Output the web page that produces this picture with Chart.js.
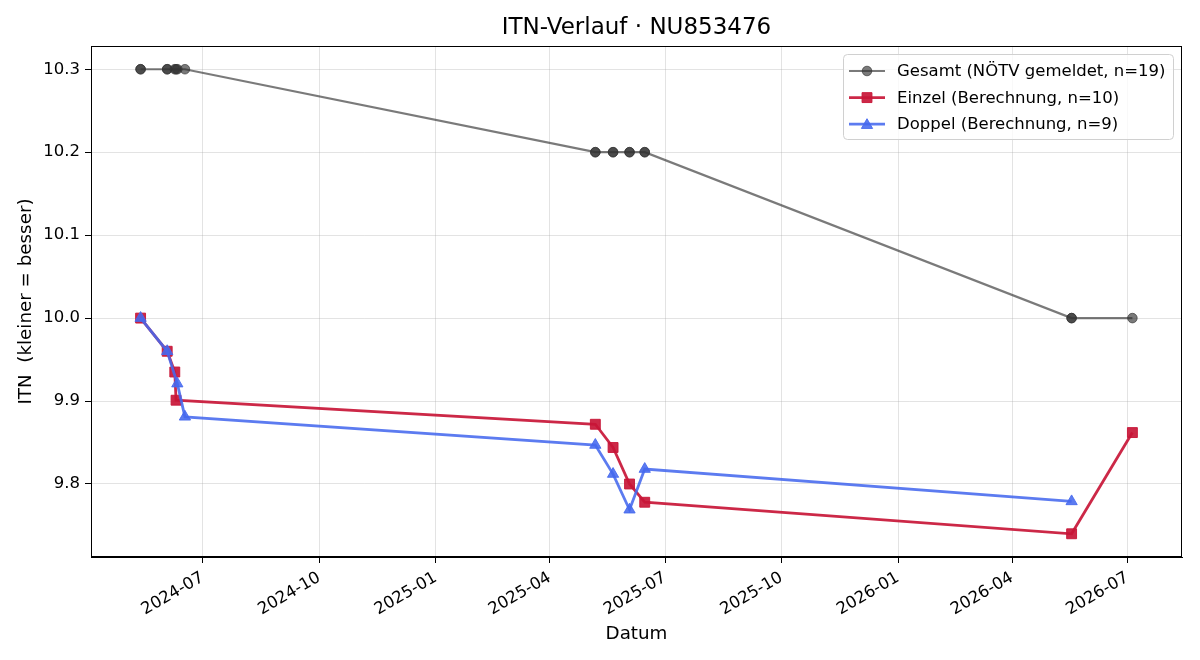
<!DOCTYPE html>
<html><head><meta charset="utf-8">
<script src="https://cdn.jsdelivr.net/npm/chart.js@4.4.1/dist/chart.umd.min.js"></script>
<style>html,body{margin:0;padding:0;background:#fff}#wrap{width:1200px;height:660px}</style>
</head><body><div id="wrap"><canvas id="c" width="1200" height="660"></canvas></div>
<script>
const titleText = 'ITN-Verlauf · NU853476';
const xAxisTitle = 'Datum';
const yAxisTitle = 'ITN  (kleiner = besser)';

const gesamtLabel = 'Gesamt (NÖTV gemeldet, n=19)';
const gesamtDates = ['2024-05-13','2024-05-13','2024-06-03','2024-06-03','2024-06-09','2024-06-10','2024-06-11','2024-06-17',
  '2025-05-07','2025-05-07','2025-05-21','2025-05-21','2025-06-03','2025-06-03','2025-06-15','2025-06-15',
  '2026-05-18','2026-05-18','2026-07-05'];
const gesamtValues = [10.3,10.3,10.3,10.3,10.3,10.3,10.3,10.3,
  10.2,10.2,10.2,10.2,10.2,10.2,10.2,10.2,
  10.0,10.0,10.0];

const einzelLabel = 'Einzel (Berechnung, n=10)';
const einzelDates = ['2024-05-13','2024-06-03','2024-06-09','2024-06-10','2025-05-07','2025-05-21','2025-06-03','2025-06-15','2026-05-18','2026-07-05'];
const einzelValues = [10.0, 9.96, 9.935, 9.901, 9.872, 9.844, 9.800, 9.778, 9.740, 9.862];

const doppelLabel = 'Doppel (Berechnung, n=9)';
const doppelDates = ['2024-05-13','2024-06-03','2024-06-11','2024-06-17','2025-05-07','2025-05-21','2025-06-03','2025-06-15','2026-05-18'];
const doppelValues = [10.0, 9.96, 9.921, 9.881, 9.847, 9.812, 9.769, 9.818, 9.779];

const xTickLabels = ['2024-07','2024-10','2025-01','2025-04','2025-07','2025-10','2026-01','2026-04','2026-07'];
const yTickValues = [9.8, 9.9, 10.0, 10.1, 10.2, 10.3];

const toMs = s => new Date(s + 'T00:00:00Z').getTime();
const pts = (d, v) => d.map((s, i) => ({x: toMs(s), y: v[i]}));

const allX = [...gesamtDates, ...einzelDates, ...doppelDates].map(toMs);
const allY = [...gesamtValues, ...einzelValues, ...doppelValues];
const xMin0 = Math.min(...allX), xMax0 = Math.max(...allX);
const yMin0 = Math.min(...allY), yMax0 = Math.max(...allY);
const xm = (xMax0 - xMin0) * 0.05, ym = (yMax0 - yMin0) * 0.05;

const FONT = 'DejaVu Sans';
const TICK_SIZE = 16.5;
const GRAY = 'rgba(51,51,51,0.65)';
const RED = 'rgba(200,22,55,0.92)';
const BLUE = 'rgba(70,105,238,0.88)';

function drawMarker(ctx, style, x, y, r, color) {
  ctx.save();
  ctx.fillStyle = color; ctx.strokeStyle = color; ctx.lineWidth = 1;
  ctx.beginPath();
  if (style === 'circle') {
    ctx.arc(x, y, r, 0, Math.PI * 2);
  } else if (style === 'rect') {
    const s = r * Math.SQRT1_2;
    ctx.rect(x - s, y - s, 2 * s, 2 * s);
  } else if (style === 'triangle') {
    ctx.moveTo(x, y - r);
    ctx.lineTo(x + r * Math.sin(Math.PI * 2 / 3), y - r * Math.cos(Math.PI * 2 / 3));
    ctx.lineTo(x + r * Math.sin(Math.PI * 4 / 3), y - r * Math.cos(Math.PI * 4 / 3));
    ctx.closePath();
  }
  ctx.fill(); ctx.stroke();
  ctx.restore();
}

const decor = {
  id: 'decor',
  afterDraw(chart) {
    const ctx = chart.ctx, a = chart.chartArea;
    ctx.save();
    // frame
    ctx.strokeStyle = '#000'; ctx.lineWidth = 1;
    ctx.strokeRect(Math.round(a.left) + 0.5, Math.round(a.top) + 0.5, Math.round(a.right - a.left) - 1, Math.round(a.bottom - a.top) - 1);
    // title
    ctx.fillStyle = '#000';
    ctx.font = '23px "' + FONT + '"';
    ctx.textAlign = 'center'; ctx.textBaseline = 'middle';
    ctx.fillText(titleText, (a.left + a.right) / 2, 28);
    // legend
    const bx = 843, by = 54, bw = 330, bh = 85;
    ctx.beginPath();
    if (ctx.roundRect) ctx.roundRect(bx + 0.5, by + 0.5, bw, bh, 4); else ctx.rect(bx + 0.5, by + 0.5, bw, bh);
    ctx.fillStyle = 'rgba(255,255,255,0.8)'; ctx.fill();
    ctx.strokeStyle = '#d0d0d0'; ctx.lineWidth = 1; ctx.stroke();
    const rows = [
      {label: gesamtLabel, color: GRAY, style: 'circle', r: 4.8, lw: 2.2},
      {label: einzelLabel, color: RED, style: 'rect', r: 7, lw: 2.8},
      {label: doppelLabel, color: BLUE, style: 'triangle', r: 6.5, lw: 2.8}
    ];
    rows.forEach((row, i) => {
      const y = 71 + i * 26.6;
      ctx.strokeStyle = row.color; ctx.lineWidth = row.lw;
      ctx.beginPath(); ctx.moveTo(849, y); ctx.lineTo(885, y); ctx.stroke();
      drawMarker(ctx, row.style, 867, y + (row.style === 'triangle' ? 1 : 0), row.r, row.color);
      ctx.fillStyle = '#000';
      ctx.font = TICK_SIZE + 'px "' + FONT + '"';
      ctx.textAlign = 'left'; ctx.textBaseline = 'middle';
      ctx.fillText(row.label, 897, y + 1);
    });
    ctx.restore();
  }
};

new Chart(document.getElementById('c'), {
  type: 'line',
  data: {
    datasets: [
      {label: doppelLabel, data: pts(doppelDates, doppelValues), borderColor: BLUE, backgroundColor: BLUE,
       borderWidth: 2.8, pointStyle: 'triangle', pointRadius: 6.5, pointBorderWidth: 1, pointBackgroundColor: BLUE, pointBorderColor: BLUE, tension: 0, order: 1},
      {label: einzelLabel, data: pts(einzelDates, einzelValues), borderColor: RED, backgroundColor: RED,
       borderWidth: 2.8, pointStyle: 'rect', pointRadius: 7, pointBorderWidth: 1, pointBackgroundColor: RED, pointBorderColor: RED, tension: 0, order: 2},
      {label: gesamtLabel, data: pts(gesamtDates, gesamtValues), borderColor: GRAY, backgroundColor: GRAY,
       borderWidth: 2.2, pointStyle: 'circle', pointRadius: 4.8, pointBorderWidth: 1, pointBackgroundColor: GRAY, pointBorderColor: GRAY, tension: 0, order: 3}
    ]
  },
  options: {
    responsive: false, animation: false, devicePixelRatio: 1,
    layout: {padding: {top: 46, right: 18, left: 0, bottom: 0}},
    plugins: {legend: {display: false}, title: {display: false}, tooltip: {enabled: false}},
    scales: {
      x: {
        type: 'linear', min: xMin0 - xm, max: xMax0 + xm,
        afterBuildTicks: s => { s.ticks = xTickLabels.map(t => ({value: toMs(t + '-01')})); },
        afterFit: s => { s.height = 103; },
        ticks: {
          autoSkip: false, minRotation: 30, maxRotation: 30, padding: 5, color: '#000',
          font: {family: FONT, size: TICK_SIZE},
          callback: v => { const d = new Date(v); return d.getUTCFullYear() + '-' + String(d.getUTCMonth() + 1).padStart(2, '0'); }
        },
        grid: {color: 'rgba(176,176,176,0.35)', lineWidth: 1, tickColor: '#000', tickLength: 6, drawTicks: true},
        border: {display: true, color: '#000', width: 1},
        title: {display: true, text: xAxisTitle, color: '#000', font: {family: FONT, size: 18.3}, padding: {top: 0, bottom: 15}}
      },
      y: {
        type: 'linear', min: yMin0 - ym, max: yMax0 + ym,
        afterBuildTicks: s => { s.ticks = yTickValues.map(v => ({value: v})); },
        afterFit: s => { s.width = 91; },
        ticks: {padding: 5, color: '#000', font: {family: FONT, size: TICK_SIZE}, callback: v => Number(v).toFixed(1)},
        grid: {color: 'rgba(176,176,176,0.35)', lineWidth: 1, tickColor: '#000', tickLength: 6, drawTicks: true},
        border: {display: true, color: '#000', width: 1},
        title: {display: true, text: yAxisTitle, color: '#000', font: {family: FONT, size: 18.3}, padding: {top: 15, bottom: 0}}
      }
    }
  },
  plugins: [decor]
});
</script></body></html>
